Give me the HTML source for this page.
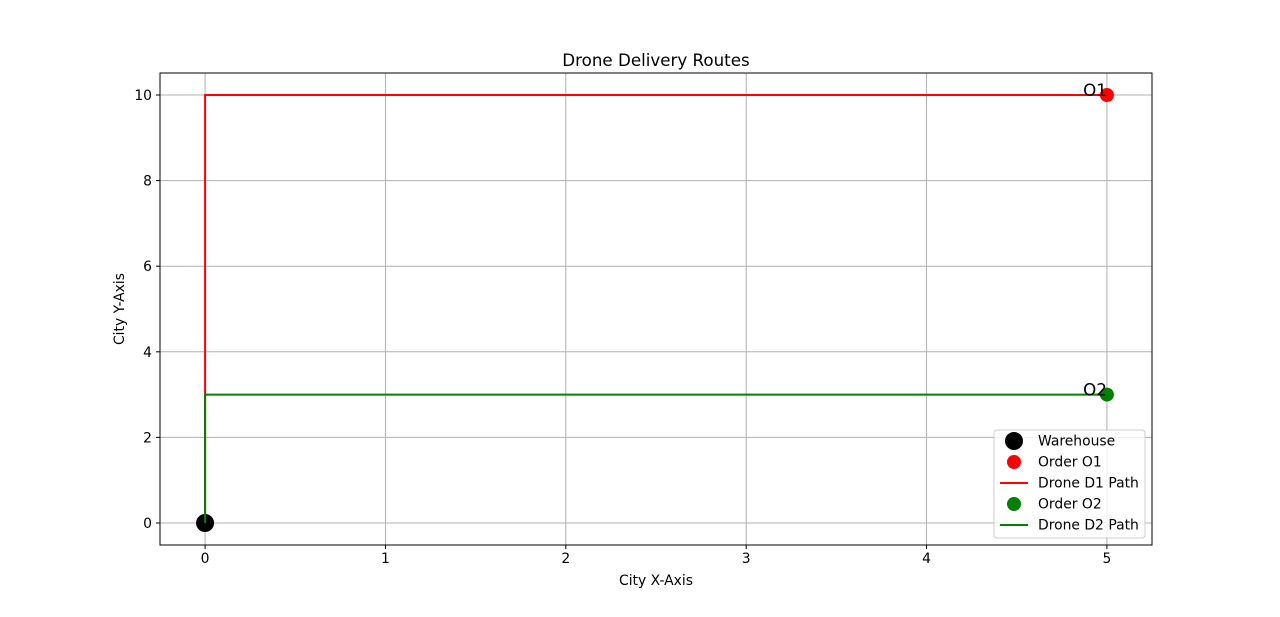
<!DOCTYPE html>
<html><head><meta charset="utf-8"><style>
body{margin:0;background:#fff;font-family:"Liberation Sans","DejaVu Sans",sans-serif;}
svg text{font-family:"DejaVu Sans","Liberation Sans",sans-serif;}
</style></head><body>
<svg id="chart" width="1280" height="612" xmlns="http://www.w3.org/2000/svg"></svg>
<script>
const xTicks=[0,1,2,3,4,5];
const yTicks=[0,2,4,6,8,10];
const warehouse=[0,0];
const orderNames=["O1","O2"];
const orderX=[5,5];
const orderY=[10,3];
const pathD1X=[0,0,5], pathD1Y=[0,10,10];
const pathD2X=[0,0,5], pathD2Y=[0,3,3];
const L=160,R=1152,T=73,B=545;
const xmin=-0.25,xmax=5.25,ymin=-0.514,ymax=10.514;
const sx=v=>L+(v-xmin)/(xmax-xmin)*(R-L);
const sy=v=>B-(v-ymin)/(ymax-ymin)*(B-T);
const svg=document.getElementById('chart');
const NS='http://www.w3.org/2000/svg';
function mk(tag,attrs,parent){const e=document.createElementNS(NS,tag);for(const k in attrs)e.setAttribute(k,attrs[k]);(parent||svg).appendChild(e);return e;}
xTicks.forEach(t=>{const x=sx(t);
 let g=mk('line',{x1:x,x2:x,y1:T,y2:B,stroke:'#b0b0b0','stroke-width':1});
 
 let k=mk('line',{x1:x,x2:x,y1:B,y2:B+4,stroke:'#000'});
 
 let tx=mk('text',{x:x,y:B+18,'text-anchor':'middle','font-size':13.9});tx.textContent=t;
 });
yTicks.forEach(t=>{const y=sy(t);
 let g=mk('line',{x1:L,x2:R,y1:y,y2:y,stroke:'#b0b0b0','stroke-width':1});
 
 let k=mk('line',{x1:L-4,x2:L,y1:y,y2:y,stroke:'#000'});
 
 let tx=mk('text',{x:L-8,y:y+5,'text-anchor':'end','font-size':13.9});tx.textContent=t;
 });
let w=mk('circle',{cx:sx(warehouse[0]),cy:sy(warehouse[1]),r:9,fill:'#000'});

function path(xs,ys,c,name){const p=mk('polyline',{points:xs.map((x,i)=>sx(x)+','+sy(ys[i])).join(' '),fill:'none',stroke:c,'stroke-width':2});
 }
const colors=['#ff0000','#008000'];
let o1=mk('circle',{cx:sx(orderX[0]),cy:sy(orderY[0]),r:7,fill:colors[0]});

path(pathD1X,pathD1Y,colors[0],'drone-d1-path');
let o2=mk('circle',{cx:sx(orderX[1]),cy:sy(orderY[1]),r:7,fill:colors[1]});

path(pathD2X,pathD2Y,colors[1],'drone-d2-path');
orderNames.forEach((n,i)=>{let t=mk('text',{x:sx(orderX[i]),y:sy(orderY[i])+1,'text-anchor':'end','font-size':16.7});t.textContent=n;
 });
let fr=mk('rect',{x:L,y:T,width:R-L,height:B-T,fill:'none',stroke:'#000','stroke-width':1});

let ti=mk('text',{x:(L+R)/2,y:66,'text-anchor':'middle','font-size':16.7});ti.textContent='Drone Delivery Routes';

let xl=mk('text',{x:(L+R)/2,y:585,'text-anchor':'middle','font-size':13.9});xl.textContent='City X-Axis';

let yl=mk('text',{x:124,y:(T+B)/2,'text-anchor':'middle','font-size':13.9,transform:'rotate(-90 124 '+(T+B)/2+')'});yl.textContent='City Y-Axis';

const lg=mk('g',{});

mk('rect',{x:994,y:430,width:151,height:108,rx:3,fill:'#fff','fill-opacity':0.8,stroke:'#ccc'},lg);
const entries=[['Warehouse','dot','#000',9],['Order O1','dot','#ff0000',7],['Drone D1 Path','line','#ff0000'],['Order O2','dot','#008000',7],['Drone D2 Path','line','#008000']];
entries.forEach((e,i)=>{const y=441+i*21;
 const g=mk('g',{},lg);
 
 if(e[1]==='dot')mk('circle',{cx:1014,cy:y,r:e[3],fill:e[2]},g);
 else mk('line',{x1:1000,x2:1028,y1:y,y2:y,stroke:e[2],'stroke-width':2},g);
 const t=mk('text',{x:1038,y:y+4.5,'font-size':13.9},g);t.textContent=e[0];});
</script>
</body></html>
